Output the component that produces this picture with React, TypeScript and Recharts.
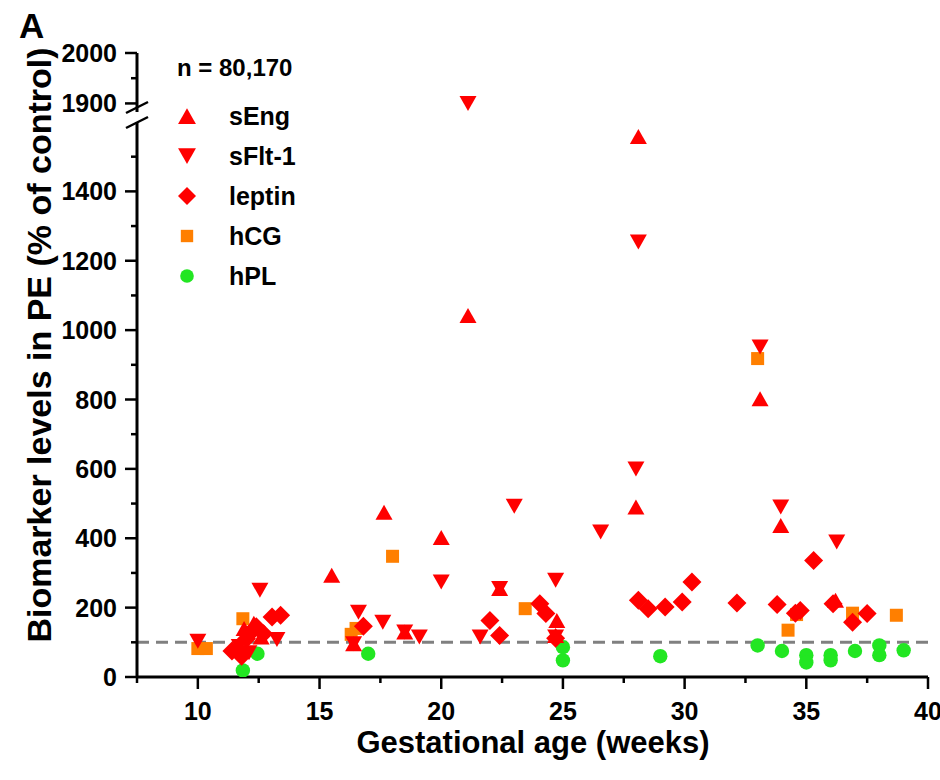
import React from 'react';
import { ScatterChart, Scatter, XAxis, YAxis, ReferenceLine, Legend } from 'recharts';

// [gestational age (weeks), biomarker level (% of control)]
const sEng: [number, number][] = [
  [11.9, 140], [12.3, 155], [12.6, 115], [15.5, 293], [16.4, 96], [17.65, 475], [18.5, 130],
  [20.0, 402], [21.1, 1042], [22.4, 255], [24.75, 163], [24.7, 120], [28.0, 490], [28.1, 1558],
  [33.1, 802], [33.95, 437], [36.2, 221],
];
const sFlt1: [number, number][] = [
  [10.0, 103], [11.7, 88], [12.1, 70], [12.55, 250], [13.25, 108], [16.4, 96], [16.6, 187],
  [17.6, 158], [18.5, 130], [19.1, 115], [20.0, 274], [21.1, 1900], [21.6, 115], [22.4, 255],
  [23.0, 492], [24.7, 279], [24.7, 115], [26.55, 418], [28.0, 600], [28.1, 1254], [33.1, 951],
  [33.95, 490], [36.25, 389],
];
const leptin: [number, number][] = [
  [11.4, 75], [11.8, 60], [12.0, 110], [12.2, 130], [12.4, 145], [12.7, 125], [13.05, 173],
  [13.4, 178], [16.8, 146], [22.0, 163], [22.4, 120], [24.05, 211], [24.3, 183], [24.7, 112],
  [28.1, 221], [28.5, 197], [29.2, 202], [29.9, 216], [30.3, 274], [32.15, 213], [33.8, 209],
  [34.55, 184], [34.75, 192], [35.3, 336], [36.1, 211], [36.9, 158], [37.5, 183],
];
const hCG: [number, number][] = [
  [10.0, 82], [10.35, 82], [11.85, 168], [16.3, 123], [16.5, 140], [18.0, 348], [23.45, 197],
  [33.0, 918], [34.25, 135], [34.6, 180], [36.9, 184], [38.7, 178],
];
const hPL: [number, number][] = [
  [11.85, 19], [12.45, 67], [17.0, 67], [25.0, 86], [25.0, 48], [29.0, 60], [33.0, 91],
  [34.0, 75], [35.0, 63], [35.0, 42], [36.0, 63], [36.0, 48], [37.0, 75], [38.0, 91],
  [38.0, 63], [39.0, 77],
];

const xTicks = [7.5, 10, 12.5, 15, 17.5, 20, 22.5, 25, 27.5, 30, 32.5, 35, 37.5, 40];
const yTicksLow = [0, 100, 200, 300, 400, 500, 600, 700, 800, 900, 1000, 1100, 1200, 1300, 1400, 1500];
const yTicksHigh = [1900, 1950, 2000];
const BREAK = 1600;

const RED = '#ff0000';
const ORANGE = '#ff7f00';
const GREEN = '#22e622';
const FONT = '"Liberation Sans", Arial, sans-serif';

type Shape = 'up' | 'down' | 'diamond' | 'square' | 'circle';

function marker(kind: Shape, cx: number, cy: number, color: string, s = 1) {
  switch (kind) {
    case 'up':
      return <path d={`M${cx},${cy - 7.5 * s}L${cx + 8.5 * s},${cy + 7.5 * s}L${cx - 8.5 * s},${cy + 7.5 * s}Z`} fill={color} />;
    case 'down':
      return <path d={`M${cx},${cy + 7.5 * s}L${cx + 8.5 * s},${cy - 7.5 * s}L${cx - 8.5 * s},${cy - 7.5 * s}Z`} fill={color} />;
    case 'diamond':
      return <path d={`M${cx},${cy - 9.5 * s}L${cx + 9.5 * s},${cy}L${cx},${cy + 9.5 * s}L${cx - 9.5 * s},${cy}Z`} fill={color} />;
    case 'square':
      return <rect x={cx - 6.5 * s} y={cy - 6.5 * s} width={13 * s} height={13 * s} fill={color} />;
    default:
      return <circle cx={cx} cy={cy} r={7.2 * s} fill={color} />;
  }
}

const series: { name: string; data: [number, number][]; shape: Shape; color: string }[] = [
  { name: 'hPL', data: hPL, shape: 'circle', color: GREEN },
  { name: 'hCG', data: hCG, shape: 'square', color: ORANGE },
  { name: 'leptin', data: leptin, shape: 'diamond', color: RED },
  { name: 'sFlt-1', data: sFlt1, shape: 'down', color: RED },
  { name: 'sEng', data: sEng, shape: 'up', color: RED },
];
const legendOrder = ['sEng', 'sFlt-1', 'leptin', 'hCG', 'hPL'];

const toPts = (d: [number, number][], hi: boolean) =>
  d.filter(([, y]) => (hi ? y > BREAK : y <= BREAK)).map(([x, y]) => ({ x, y }));

const makeYTick = (labelEvery: number) => (props: any) => {
  const { x, y, payload } = props;
  const v = payload.value as number;
  const major = v % labelEvery === 0;
  return (
    <g>
      <line x1={x - (major ? 12 : 6)} x2={x} y1={y} y2={y} stroke="#000" strokeWidth={2.5} />
      {major && (
        <text x={x - 20} y={y} dy="0.36em" textAnchor="end" fontFamily={FONT} fontWeight="bold" fontSize={25} fill="#000">
          {v}
        </text>
      )}
    </g>
  );
};

const XTick = (props: any) => {
  const { x, y, payload } = props;
  const v = payload.value as number;
  const major = v % 5 === 0;
  return (
    <g>
      <line x1={x} x2={x} y1={y} y2={y + (major ? 12 : 6)} stroke="#000" strokeWidth={2.5} />
      {major && (
        <text x={x} y={y + 43} textAnchor="middle" fontFamily={FONT} fontWeight="bold" fontSize={25} fill="#000">
          {v}
        </text>
      )}
    </g>
  );
};

const LegendBox = () => (
  <svg width={200} height={270} style={{ display: 'block' }}>
    <text x={17} y={36} fontFamily={FONT} fontWeight="bold" fontSize={24} fill="#000">n = 80,170</text>
    {legendOrder.map((name, i) => {
      const s = series.find((q) => q.name === name)!;
      const cy = 76 + i * 40;
      return (
        <g key={name}>
          {marker(s.shape, 27, cy, s.color, s.shape === 'up' || s.shape === 'down' ? 1.05 : 0.95)}
          <text x={69} y={cy} dy="0.36em" fontFamily={FONT} fontWeight="bold" fontSize={25} fill="#000">{name}</text>
        </g>
      );
    })}
  </svg>
);

const axisStyle = { stroke: '#000', strokeWidth: 3 };

export default function App() {
  return (
    <div style={{ position: 'absolute', left: 0, top: 0, width: 940, height: 780, background: '#fff' }}>
      {/* upper (broken) segment */}
      <div style={{ position: 'absolute', left: 0, top: 0 }}>
        <ScatterChart width={940} height={120} margin={{ top: 53, right: 12, left: 0, bottom: 8 }}>
          <XAxis type="number" dataKey="x" domain={[7.5, 40]} hide />
          <YAxis
            type="number"
            dataKey="y"
            domain={[1883, 2000]}
            ticks={yTicksHigh}
            interval={0}
            width={137}
            allowDataOverflow
            axisLine={axisStyle}
            tickLine={false}
            tickSize={0}
            tickMargin={0}
            tick={makeYTick(100)}
          />
          {series.map((s) => (
            <Scatter
              key={s.name}
              name={s.name}
              data={toPts(s.data, true)}
              isAnimationActive={false}
              shape={(p: any) => marker(s.shape, p.cx, p.cy, s.color)}
            />
          ))}
        </ScatterChart>
      </div>
      {/* main segment */}
      <div style={{ position: 'absolute', left: 0, top: 0 }}>
        <ScatterChart width={940} height={780} margin={{ top: 122, right: 12, left: 0, bottom: 0 }}>
          <XAxis
            type="number"
            dataKey="x"
            domain={[7.5, 40]}
            ticks={xTicks}
            interval={0}
            height={103}
            axisLine={axisStyle}
            tickLine={false}
            tickSize={0}
            tickMargin={0}
            tick={XTick}
            label={(p: any) => (
              <text x={533} y={753} textAnchor="middle" fontFamily={FONT} fontWeight="bold" fontSize={31} fill="#000">
                Gestational age (weeks)
              </text>
            )}
          />
          <YAxis
            type="number"
            dataKey="y"
            domain={[0, BREAK]}
            ticks={yTicksLow}
            interval={0}
            width={137}
            allowDataOverflow
            axisLine={axisStyle}
            tickLine={false}
            tickSize={0}
            tickMargin={0}
            tick={makeYTick(200)}
            label={(p: any) => (
              <text
                x={51}
                y={345}
                transform="rotate(-90 51 345)"
                textAnchor="middle"
                fontFamily={FONT}
                fontWeight="bold"
                fontSize={34}
                fill="#000"
              >
                Biomarker levels in PE (% of control)
              </text>
            )}
          />
          <ReferenceLine y={100} stroke="#808080" strokeWidth={3} strokeDasharray="12 7" />
          {series.map((s) => (
            <Scatter
              key={s.name}
              name={s.name}
              data={toPts(s.data, false)}
              isAnimationActive={false}
              shape={(p: any) => marker(s.shape, p.cx, p.cy, s.color)}
            />
          ))}
          <Legend
            layout="vertical"
            align="center"
            verticalAlign="middle"
            wrapperStyle={{ left: 160, top: 40, width: 200, height: 270 }}
            content={() => <LegendBox />}
          />
        </ScatterChart>
      </div>
      {/* axis break marks */}
      <svg width={940} height={780} style={{ position: 'absolute', left: 0, top: 0, pointerEvents: 'none' }}>
        <line x1={126} y1={113} x2={148} y2={102} stroke="#000" strokeWidth={2.5} />
        <line x1={126} y1={128} x2={148} y2={117} stroke="#000" strokeWidth={2.5} />
      </svg>
      <div
        style={{
          position: 'absolute',
          left: 19,
          top: 7,
          fontFamily: FONT,
          fontWeight: 'bold',
          fontSize: 35,
          lineHeight: '38px',
          color: '#000',
        }}
      >
        A
      </div>
    </div>
  );
}
